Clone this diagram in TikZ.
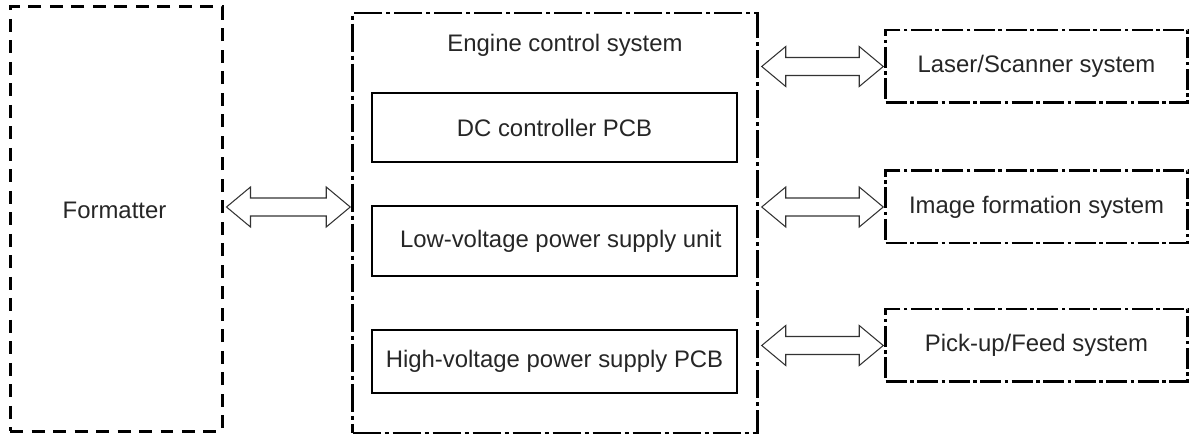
\documentclass[tikz,border=0pt]{standalone}
\usepackage{fontspec}
\setmainfont{Liberation Sans}
\usetikzlibrary{calc}

\newcommand{\fatarrow}[2]{%
  \draw[fatline] let \p1=($(#1)+(0.06cm,0)$), \p2=($(#2)+(-0.02cm,0)$) in
    (\x1,\y1) -- (\x1+0.48cm,\y1+0.4cm) -- (\x1+0.48cm,\y1+0.18cm)
    -- (\x2-0.48cm,\y2+0.18cm) -- (\x2-0.48cm,\y2+0.4cm) -- (\x2,\y2)
    -- (\x2-0.48cm,\y2-0.4cm) -- (\x2-0.48cm,\y2-0.18cm)
    -- (\x1+0.48cm,\y1-0.18cm) -- (\x1+0.48cm,\y1-0.4cm) -- cycle;}

\begin{document}
\begin{tikzpicture}[
  every node/.style={font=\fontsize{13.6}{16}\selectfont, inner sep=0pt, text=black!85},
  fmtbox/.style={draw, rectangle, line width=0.06cm, dash pattern=on 0.26cm off 0.17cm,
    minimum width=4.24cm, minimum height=8.48cm},
  engbox/.style={draw, rectangle, line width=0.05cm,
    dash pattern=on 0.56cm off 0.08cm on 0.08cm off 0.08cm,
    minimum width=8.1cm, minimum height=8.39cm},
  sysbox/.style={draw, rectangle, line width=0.05cm,
    dash pattern=on 0.42cm off 0.07cm on 0.07cm off 0.07cm,
    minimum width=6.04cm, minimum height=1.45cm},
  pcbbox/.style={draw, rectangle, line width=0.04cm, minimum width=7.3cm},
  fatline/.style={line width=0.6pt, black!80}]
\useasboundingbox (0cm,0cm) rectangle (23.82cm,-8.7cm);

\draw (2.32cm,-4.38cm) node (fmt) [fmtbox] {};
\draw (2.29cm,-4.2cm) node (fmtlabel) {Formatter};

\draw (11.1cm,-4.46cm) node (eng) [engbox] {};
\draw (11.3cm,-0.9cm) node (engtitle) {Engine control system};
\draw (11.09cm,-2.55cm) node (dc) [pcbbox, minimum height=1.38cm] {DC controller PCB};
\draw (11.09cm,-4.82cm) node (lv) [pcbbox, minimum height=1.4cm] {\hspace{0.25cm}Low-voltage power supply unit};
\draw (11.09cm,-7.23cm) node (hv) [pcbbox, minimum height=1.26cm] {High-voltage power supply PCB};

\draw (20.73cm,-1.33cm) node (laser) [sysbox] {Laser/Scanner system};
\draw (20.73cm,-4.14cm) node (img) [sysbox] {Image formation system};
\draw (20.73cm,-6.91cm) node (pick) [sysbox] {Pick-up/Feed system};

\fatarrow{fmt.east |- img.west}{eng.west |- img.west}
\fatarrow{eng.east |- laser.west}{laser.west}
\fatarrow{eng.east |- img.west}{img.west}
\fatarrow{eng.east |- pick.west}{pick.west}
\end{tikzpicture}
\end{document}
